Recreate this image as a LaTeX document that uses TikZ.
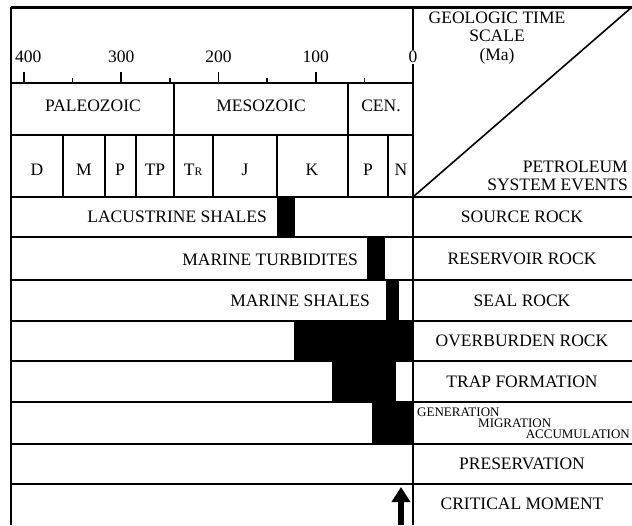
\documentclass[tikz,border=0pt]{standalone}
\usepackage{fontspec}
\setmainfont{Liberation Serif}
\usetikzlibrary{positioning,arrows.meta}

\begin{document}
\begin{tikzpicture}[x=1pt, y=-1pt, font=\fontsize{17.5}{18.5}\selectfont]
    \tikzstyle{rule}=[line width=2.2pt]
    \tikzstyle{thin}=[line width=1.6pt]
    \tikzstyle{bar}=[fill=black]
    \tikzstyle{event}=[inner sep=0pt]
    \tikzstyle{rock}=[inner sep=0pt, anchor=east]
    \tikzstyle{phase}=[font=\fontsize{13}{13}\selectfont, inner sep=0pt]

    \useasboundingbox (0,0) rectangle (632,525);
    \fill[white] (0,0) rectangle (632,525);

    % timing of the elements (black bars)
    \foreach \a/\b/\t/\u in {277/295/197/237, 367/385/237/280, 386/399/280/321,
                             294/413/321/361, 332/396/361/402, 372/413/402/444}
      \fill[bar] (\a,\t) rectangle (\b,\u);

    % frame and rows
    \draw[line width=3pt] (11,7) -- (632,7);
    \draw[rule] (11,7) -- (11,525);
    \draw[rule] (11,83) -- (413,83);
    \draw[rule] (11,135) -- (413,135);
    \foreach \y in {197,237,280,321,361,402,444,484}
      \draw[rule] (11,\y) -- (632,\y);
    \draw[thin] (413,7) -- (413,525);
    \draw[thin] (413,197) -- (632,7);

    % time scale
    \foreach \t in {0,100,200,300,400}
      \draw[thin] ({413-0.9725*\t},72) -- ({413-0.9725*\t},83);
    \foreach \t in {50,150,250,350}
      \draw[thin] ({413-0.9725*\t},78) -- ({413-0.9725*\t},83);
    \node[inner sep=1pt, anchor=west] (t400) at (14,57) {400};
    \foreach \t in {100,200,300}
      \node[inner sep=1pt] (t\t) at ({413-0.9725*\t},57) {\t};
    \node[inner sep=1pt, fill=white] (t0) at (413,57) {0};

    % eras
    \draw[rule] (174,83) -- (174,197);
    \draw[rule] (348,83) -- (348,197);
    \node (paleo) at (93,106) {PALEOZOIC};
    \node (meso) at (261,106) {MESOZOIC};
    \node (ceno) at (381,106) {CEN.};

    % periods
    \foreach \x in {63,105,136,213,277,388}
      \draw[thin] (\x,135) -- (\x,197);
    \foreach \x/\p in {37/D, 84/M, 120/P, 155/TP, 193/T{\fontsize{11.5}{11.5}\selectfont R},
                       245/J, 312/K, 368/P, 401/N}
      \node (per\x) at (\x,170) {\p};

    % headings
    \node[align=center, inner sep=0pt] (gts) at (497,38)
         {GEOLOGIC TIME\\SCALE\\(Ma)};
    \node[align=right, inner sep=0pt, anchor=east] (pse) at (628,176)
         {PETROLEUM\\SYSTEM EVENTS};

    % rock units
    \node[rock] (lac) at (267,217) {LACUSTRINE SHALES};
    \node[rock] (tur) at (358,260) {MARINE TURBIDITES};
    \node[rock] (msh) at (370,301) {MARINE SHALES};

    % events
    \node[event] (src) at (522,217) {SOURCE ROCK};
    \node[event] (res) at (522,259) {RESERVOIR ROCK};
    \node[event] (seal) at (522,301) {SEAL ROCK};
    \node[event] (ovb) at (522,341) {OVERBURDEN ROCK};
    \node[event] (trap) at (522,382) {TRAP FORMATION};
    \node[phase, anchor=west] (gen) at (417,412) {GENERATION};
    \node[phase, anchor=west] (mig) at (478,423) {MIGRATION};
    \node[phase, anchor=east] (acc) at (630,434) {ACCUMULATION};
    \node[event] (prs) at (522,464) {PRESERVATION};
    \node[event] (crit) at (522,504) {CRITICAL MOMENT};

    % critical moment
    \coordinate (cmfoot) at (401,525);
    \coordinate (cmtip) at (401,487);
    \draw[line width=6pt, -{Triangle[width=18pt, length=15pt]}] (cmfoot) -- (cmtip);
  \end{tikzpicture}
\end{document}
